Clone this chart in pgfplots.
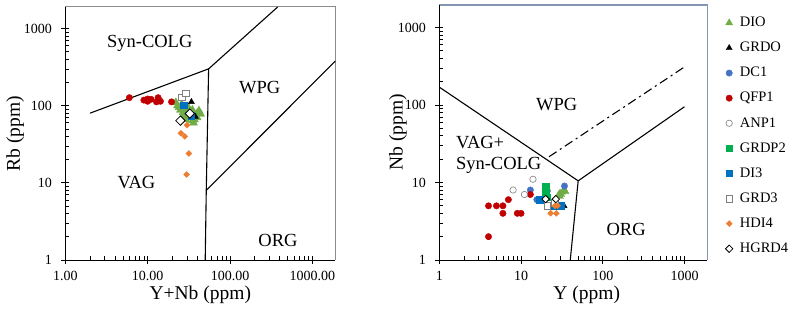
\documentclass[border=0pt]{standalone}
\usepackage{fontspec}
\setmainfont{Liberation Serif}
\usepackage{pgfplots}
\pgfplotsset{compat=1.18}
\definecolor{cDIO}{HTML}{70AD47}
\definecolor{cDC}{HTML}{4472C4}
\definecolor{cQFP}{HTML}{C00000}
\definecolor{cGRDP}{HTML}{00B050}
\definecolor{cDI}{HTML}{0070C0}
\definecolor{cHDI}{HTML}{ED7D31}
\definecolor{cOpen}{HTML}{7F7F7F}
\definecolor{cFrameL}{HTML}{8C8C8C}
\definecolor{cFrameR}{HTML}{8497B0}
\tikzset{
  region/.style={font=\fontsize{18.5}{20.7}\selectfont},
}
\pgfplotsset{
  scale only axis, clip=false,
  axis x line*=bottom, axis y line*=left,
  axis line style={-, black, line width=0.9pt},
  xtick={1,10,100,1000}, ytick={1,10,100,1000},
  minor xtick={2,3,4,5,6,7,8,9,20,30,40,50,60,70,80,90,200,300,400,500,600,700,800,900},
  minor ytick={2,3,4,5,6,7,8,9,20,30,40,50,60,70,80,90,200,300,400,500,600,700,800,900},
  tick align=inside, major tick length=8pt, minor tick length=4pt,
  every tick/.style={black, line width=0.7pt},
  every major x tick/.append style={yshift=-4pt},
  every major y tick/.append style={xshift=-4pt},
  ticklabel style={font=\fontsize{14}{16}\selectfont},
  yticklabel style={xshift=-10pt},
  xticklabel style={yshift=-8pt},
  label style={font=\fontsize{19.5}{22}\selectfont},
  bline/.style={black, line width=1.1pt, no marks},
  sDIO/.style={only marks, mark=triangle*, mark size=#1, color=cDIO},
  sDIO/.default=4pt,
  sGRDO/.style={only marks, mark=triangle*, mark size=3.5pt, color=black},
  sDC/.style={only marks, mark=*, mark size=3.2pt, color=cDC},
  sQFP/.style={only marks, mark=*, mark size=3.2pt, color=cQFP},
  sANP/.style={only marks, mark=*, mark size=3.2pt, draw=cOpen, fill=white, mark options={line width=0.6pt}},
  sGRDP/.style={only marks, mark=square*, mark size=3.2pt, color=cGRDP},
  sDI/.style={only marks, mark=square*, mark size=3.2pt, color=cDI},
  sGRD/.style={only marks, mark=square*, mark size=3.4pt, draw=cOpen, fill=white, mark options={line width=0.6pt}},
  sHDI/.style={only marks, mark=square*, mark size=2.1pt, color=cHDI, mark options={rotate=45}},
  sHGRD/.style={only marks, mark=square*, mark size=#1, draw=black, fill=white, mark options={rotate=45, line width=0.8pt}},
}
\begin{document}
\begin{tikzpicture}[x=1pt,y=1pt]
\path[use as bounding box] (0,0) rectangle (798,315);
% frames (top and right sides) as thin filled bars
\fill[cFrameL] (65.3,307.5) rectangle (335.8,308.5);
\fill[cFrameL] (334.8,55) rectangle (335.8,308.5);
\fill[cFrameR] (439.3,309.2) rectangle (708.1,310.8);
\fill[cFrameR] (706.5,55) rectangle (708.1,310.8);
% ---------------- left: Rb vs Y+Nb ----------------
\begin{loglogaxis}[at={(65.3pt,55pt)}, anchor=south west, width=270pt, height=253pt,
  xmin=1, xmax=1900, ymin=1, ymax=1900,
  xticklabels={1.00,10.00,100.00,1000.00}, yticklabels={1,10,100,1000},
  xlabel={Y+Nb (ppm)}, ylabel={Rb (ppm)},
  xlabel style={at={(axis description cs:0.5,-0.137)}, anchor=center},
  ylabel style={at={(axis description cs:-0.186,0.5)}, anchor=center}]
\addplot[bline, forget plot] coordinates {(2,80) (55,300) (379,1900)};
\addplot[bline, forget plot] coordinates {(55,300) (51.5,8) (50,1)};
\addplot[bline, forget plot] coordinates {(51.5,8) (1900,378)};
\node[region] at (axis cs:10.6,640) {Syn-COLG};
\node[region] at (axis cs:229,171) {WPG};
\node[region] at (axis cs:7.3,10) {VAG};
\node[region] at (axis cs:383,1.8) {ORG};
\addplot[sDIO=4.6pt] coordinates {(22,110) (23,100) (24,95) (25,88) (26,104) (27,82) (28,92) (29,78) (30,85) (27,74) (33,70) (35,64) (36,60) (38,75) (40,80) (42,86) (44,78) (40,70) (37,66) (35,88) (31,96) (29,66)};
\addplot[sGRDO] coordinates {(34,112) (38,72)};
\addplot[sQFP] coordinates {(6,127) (9,118) (10,114) (10,122) (11,121) (12.8,112) (13.4,127) (13.5,118) (14.3,114) (19.5,112)};
\addplot[sDI] coordinates {(27.5,102) (34,74)};
\addplot[sGRD] coordinates {(25.8,128) (28.9,145)};
\addplot[sHDI] coordinates {(30,56) (25.3,44) (28.3,40) (31.6,24) (29.7,12.8)};
\addplot[sHGRD=3.3pt] coordinates {(25,64) (32.5,79)};
\end{loglogaxis}
% ---------------- right: Nb vs Y ----------------
\begin{loglogaxis}[at={(439.3pt,55pt)}, anchor=south west, width=268pt, height=255pt,
  xmin=1, xmax=1900, ymin=1, ymax=1950,
  xticklabels={1,10,100,1000}, yticklabels={1,10,100,1000},
  xlabel={Y (ppm)}, ylabel={Nb (ppm)},
  xlabel style={at={(axis description cs:0.55,-0.136)}, anchor=center},
  ylabel style={at={(axis description cs:-0.154,0.5)}, anchor=center},
  legend image code/.code={\draw[mark repeat=2,mark phase=2,#1] plot coordinates {(0pt,0pt) (3pt,0pt) (6pt,0pt)};},
  legend style={at={(1.056,0.967)}, anchor=north west, draw=none, fill=none,
    font=\fontsize{14.5}{16}\selectfont, row sep=10.6pt, column sep=6.5pt,
    nodes={inner sep=0.5pt, text height=10.5pt, text depth=3pt}},
  legend cell align=left]
\addplot[bline, forget plot] coordinates {(1,170) (50,10.5) (40,1)};
\addplot[bline, forget plot] coordinates {(50,10.5) (1000,95)};
\addplot[bline, forget plot, dash pattern=on 9pt off 4pt on 2pt off 4pt] coordinates {(22,21.5) (1000,310)};
\node[region] at (axis cs:27.3,102) {WPG};
\node[region, anchor=west, align=left] at (axis cs:1.45,22.9) {VAG+\\Syn-COLG};
\node[region] at (axis cs:193,2.49) {ORG};
\addplot[sDIO] coordinates {(29,7) (30,7.3) (31,7) (32,7.5) (33,7.8) (34,8) (35,7.6) (30,6.6)};
\addlegendentry{DIO}
\addplot[sGRDO] coordinates {(33.5,5)};
\addlegendentry{GRDO}
\addplot[sDC] coordinates {(13,8) (15.6,6) (21,7.8) (34,9)};
\addlegendentry{DC1}
\addplot[sQFP] coordinates {(4,5) (4,2) (5,5) (6,5) (6,4) (7,6) (9,4) (10,4) (13,7)};
\addlegendentry{QFP1}
\addplot[sANP] coordinates {(8,8) (11,7) (14,11)};
\addlegendentry{ANP1}
\addplot[sGRDP] coordinates {(20,9) (20,7.3) (17.5,6) (21,6.5)};
\addlegendentry{GRDP2}
\addplot[sDI] coordinates {(17,6) (24,5) (28,5) (31,5)};
\addlegendentry{DI3}
\addplot[sGRD] coordinates {(21,5) (26,5.5)};
\addlegendentry{GRD3}
\addplot[sHDI] coordinates {(23,4) (27,4) (26,5) (28,5)};
\addlegendentry{HDI4}
\addplot[sHGRD=2.6pt] coordinates {(20,6.1) (26.6,6.1)};
\addlegendentry{HGRD4}
\end{loglogaxis}
\end{tikzpicture}
\end{document}
